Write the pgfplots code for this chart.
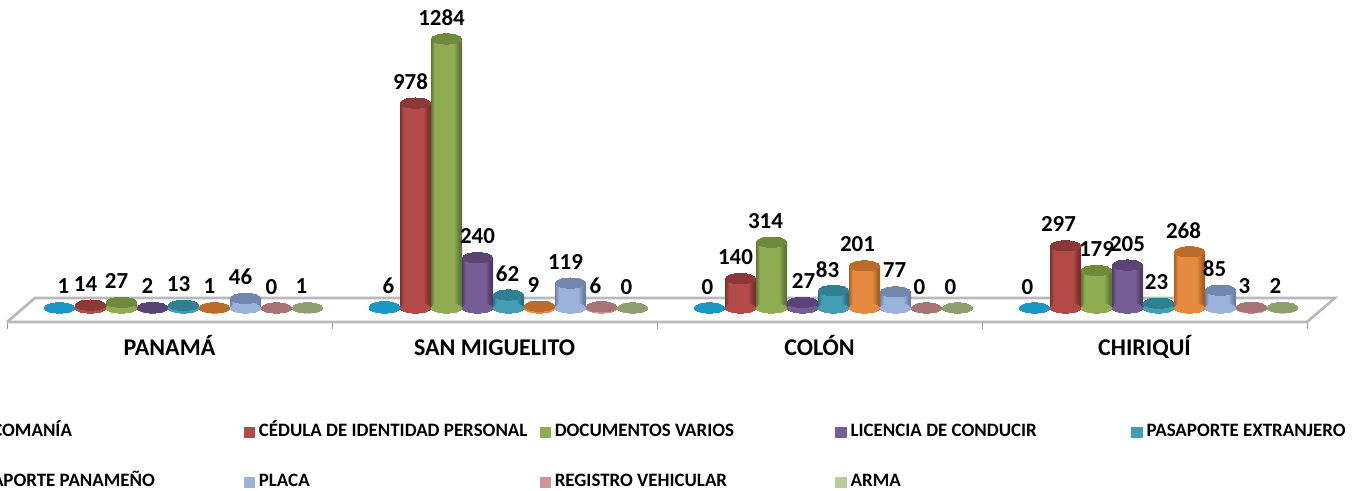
\documentclass[border=0pt]{standalone}
\usepackage{pgfplots}
\usepackage{pgfplotstable}
\usepackage{fontspec}
\setmainfont{Carlito}
\pgfplotsset{compat=1.18}
% g = group, v = value, dx, dy = label nudges (px)
\pgfplotstableread{
g v dx dy
0 1 4 0
1 6 4 0
2 0 -2 0
3 0 -7 0
}\tA
\pgfplotstableread{
g v dx dy
0 14 -5 0
1 978 -5 0
2 140 -5 0
3 297 -7 0
}\tB
\pgfplotstableread{
g v dx dy
0 27 -5 0
1 1284 -5 0
2 314 -6 0
3 179 0 0
}\tC
\pgfplotstableread{
g v dx dy
0 2 -5 0
1 240 0 0
2 27 1 0
3 205 0 0
}\tD
\pgfplotstableread{
g v dx dy
0 13 -5 0
1 62 -1 0
2 83 -6 0
3 23 -2 0
}\tE
\pgfplotstableread{
g v dx dy
0 1 -5 0
1 9 -6 0
2 201 -7 0
3 268 -6 0
}\tF
\pgfplotstableread{
g v dx dy
0 46 -5 0
1 119 -5 0
2 77 -1 0
3 85 -6 0
}\tG
\pgfplotstableread{
g v dx dy
0 0 -5 0
1 6 -6 0
2 0 -7 0
3 3 -7 0
}\tH
\pgfplotstableread{
g v dx dy
0 1 -6 0
1 0 -6 0
2 0 -7 0
3 2 -7 0
}\tI
\definecolor{a1}{HTML}{0F9BCF}\definecolor{a2}{HTML}{0A6F96}\definecolor{a3}{HTML}{1A97C4}
\definecolor{b1}{HTML}{B24A47}\definecolor{b2}{HTML}{7C2F2D}\definecolor{b3}{HTML}{8C3836}
\definecolor{c1}{HTML}{8FAC52}\definecolor{c2}{HTML}{5F7734}\definecolor{c3}{HTML}{6E8A3A}
\definecolor{d1}{HTML}{775D96}\definecolor{d2}{HTML}{4E3C66}\definecolor{d3}{HTML}{5A4475}
\definecolor{e1}{HTML}{439DB5}\definecolor{e2}{HTML}{2A6F82}\definecolor{e3}{HTML}{317F94}
\definecolor{f1}{HTML}{E58A40}\definecolor{f2}{HTML}{A85F22}\definecolor{f3}{HTML}{BC6C2A}
\definecolor{g1}{HTML}{9BB2DA}\definecolor{g2}{HTML}{6A80A6}\definecolor{g3}{HTML}{7287AB}
\definecolor{h1}{HTML}{D19392}\definecolor{h2}{HTML}{A56F6E}\definecolor{h3}{HTML}{A87473}
\definecolor{i1}{HTML}{B9CD96}\definecolor{i2}{HTML}{8F9F70}\definecolor{i3}{HTML}{8F9F70}
\newcommand\declsh[2]{\pgfdeclarehorizontalshading{cyl#1}{100bp}{color(0bp)=(#2); color(25bp)=(#2); color(31bp)=(#1); color(62bp)=(#1); color(71bp)=(#2); color(100bp)=(#2)}}
\declsh{a1}{a2}\declsh{b1}{b2}\declsh{c1}{c2}\declsh{d1}{d2}\declsh{e1}{e2}\declsh{f1}{f2}\declsh{g1}{g2}\declsh{h1}{h2}\declsh{i1}{i2}
\newcommand\onebar[4]{%
\addplot[ybar, forget plot, bar width=23.25pt, bar shift=0pt, draw=none, shading=cyl#3, restrict y to domain=0.5:2000, restrict x to domain=#4]
  table[x expr=\thisrow{g}+(14+31*(#2-4))/325, y=v]{#1};
}
\newcommand\serie[5]{%
\addplot[only marks, forget plot, mark=*, mark size=11.6pt, mark options={yscale=0.33, draw=#4, fill=#4, line width=0pt}]
  table[x expr=\thisrow{g}+(14+31*(#2-4))/325, y expr=0]{#1};
\onebar{#1}{#2}{#4}{-0.45:0.45}\onebar{#1}{#2}{#4}{0.55:1.45}\onebar{#1}{#2}{#4}{1.55:2.45}\onebar{#1}{#2}{#4}{2.55:3.45}
\addplot[only marks, forget plot, mark=*, mark size=11.6pt, mark options={yscale=0.33, draw=#5, fill=#5, line width=0pt}]
  table[x expr=\thisrow{g}+(14+31*(#2-4))/325, y=v]{#1};
}
\newcommand\etiq[2]{%
\addplot[only marks, forget plot, mark=none, point meta=explicit symbolic,
  visualization depends on=\thisrow{dx}\as\dxv,
  nodes near coords,
  every node near coord/.append style={anchor=center, font=\bfseries\fontsize{17.2}{18}\selectfont, text=black, inner sep=0pt, xshift=\dxv*0.75pt, yshift=16pt}]
  table[x expr=\thisrow{g}+(14+31*(#2-4))/325, y=v, meta=v]{#1};
}
\newcommand\leg[2]{\addlegendimage{legend image code/.code={\fill[#1] (0pt,-4pt) rectangle (8pt,4pt); \path (11pt,0pt);}}\addlegendentry{#2}}
\begin{document}
\begin{tikzpicture}
\useasboundingbox (0,0) rectangle (1018.5pt,368.25pt);
\begin{axis}[
  at={(5.25pt,126.75pt)}, anchor=south west,
  scale only axis, width=975pt, height=241.5pt,
  xmin=-0.5, xmax=3.5, ymin=-66.8, ymax=1470,
  clip=false,
  axis x line=bottom, axis y line=none,
  axis line style={-, draw=gray!70, line width=0.8pt},
  xtick={0,1,2,3},
  xticklabels={PANAMÁ,SAN MIGUELITO,COLÓN,CHIRIQUÍ},
  major tick length=0pt,
  minor xtick={-0.5,0.5,1.5,2.5,3.5},
  minor tick length=5pt,
  tick align=outside,
  minor tick style={draw=gray!80, line width=0.6pt},
  every x tick label/.append style={font=\bfseries\fontsize{18}{19}\selectfont, text height=12pt, text depth=2pt, yshift=-9.5pt},
  legend columns=5,
  legend cell align=left,
  legend style={at={(-0.0488,-0.309)}, anchor=north west, draw=none, fill=none,
    font=\bfseries\fontsize{14.2}{15}\selectfont,
    nodes={text width=210.5pt, align=flush left, inner sep=0pt, text height=9pt, text depth=3pt},
    row sep=25.5pt, column sep=0pt},
]
\addplot[forget plot, draw=gray!55, line width=2pt, fill=white] coordinates {(-0.5,-66.8) (3.5,-66.8) (3.586,47.7) (-0.414,47.7) (-0.5,-66.8)};
\serie{\tA}{0}{a2}{a1}{a3}
\serie{\tB}{1}{b2}{b1}{b3}
\serie{\tC}{2}{c2}{c1}{c3}
\serie{\tD}{3}{d2}{d1}{d3}
\serie{\tE}{4}{e2}{e1}{e3}
\serie{\tF}{5}{f2}{f1}{f3}
\serie{\tG}{6}{g2}{g1}{g3}
\serie{\tH}{7}{h2}{h1}{h3}
\serie{\tI}{8}{i2}{i1}{i3}
\etiq{\tA}{0}\etiq{\tB}{1}\etiq{\tC}{2}\etiq{\tD}{3}\etiq{\tE}{4}\etiq{\tF}{5}\etiq{\tG}{6}\etiq{\tH}{7}\etiq{\tI}{8}
\leg{a1}{CALCOMANÍA}
\leg{b1}{CÉDULA DE IDENTIDAD PERSONAL}
\leg{c1}{DOCUMENTOS VARIOS}
\leg{d1}{LICENCIA DE CONDUCIR}
\leg{e1}{PASAPORTE EXTRANJERO}
\leg{f1}{PASAPORTE PANAMEÑO}
\leg{g1}{PLACA}
\leg{h1}{REGISTRO VEHICULAR}
\leg{i1}{ARMA}
\end{axis}
\end{tikzpicture}
\end{document}
